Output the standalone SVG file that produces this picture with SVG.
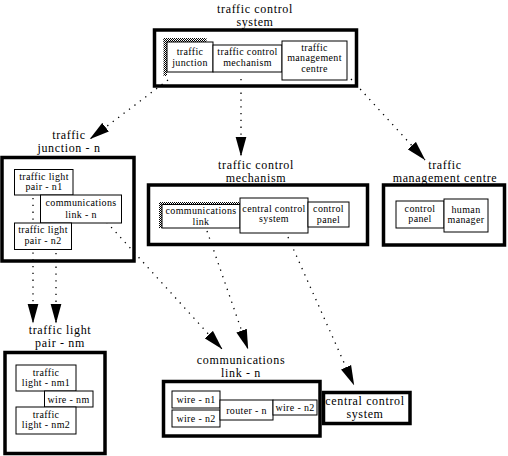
<svg xmlns="http://www.w3.org/2000/svg" width="508" height="456" viewBox="0 0 508 456">
<defs>
<style>
.outer{fill:none;stroke:#000;stroke-width:3.5}
.inner{fill:#fff;stroke:#000;stroke-width:1}
.hatch{fill:url(#dither);stroke:none}
.lbl{font-family:"Liberation Serif","Times New Roman",serif;font-size:12px;text-anchor:middle;letter-spacing:0.65px;fill:#000}
.txt{font-family:"Liberation Serif","Times New Roman",serif;font-size:10px;text-anchor:middle;letter-spacing:0.35px;fill:#000}
.conn{fill:none;stroke:#000;stroke-width:1.3;stroke-dasharray:1.3 5.5;marker-end:url(#arr)}
</style>
<pattern id="dither" width="2" height="2" patternUnits="userSpaceOnUse">
<rect width="2" height="2" fill="#fff"/>
<rect width="1" height="1" fill="#000"/>
<rect x="1" y="1" width="1" height="1" fill="#000"/>
</pattern>
<marker id="arr" viewBox="0 0 20 12" refX="19.5" refY="6" markerWidth="20" markerHeight="12" markerUnits="userSpaceOnUse" orient="auto">
<path d="M0,0.5 L20,6 L0,11.5 Z" fill="#000" stroke="none"/>
</marker>
</defs>
<rect width="508" height="456" fill="#fff"/>

<g id="connectors">
<line class="conn" x1="168" y1="80" x2="90" y2="139"/>
<line class="conn" x1="241" y1="79" x2="241" y2="156"/>
<line class="conn" x1="351" y1="79" x2="425" y2="160"/>
<line class="conn" x1="33" y1="198" x2="33" y2="323"/>
<line class="conn" x1="56" y1="253" x2="56" y2="323"/>
<line class="conn" x1="102" y1="217" x2="222" y2="349"/>
<line class="conn" x1="207" y1="231" x2="248" y2="349"/>
<line class="conn" x1="288" y1="237" x2="354" y2="385"/>
</g>

<g id="traffic-control-system">
<text class="lbl" x="255" y="13">traffic control</text>
<text class="lbl" x="255" y="26">system</text>
<rect class="outer" x="154.5" y="30" width="202" height="56"/>
<rect class="hatch" x="163.5" y="38" width="43" height="4"/>
<rect class="hatch" x="163.5" y="38" width="3.5" height="38"/>
<rect class="inner" x="167" y="42" width="46" height="30"/>
<text class="txt" x="190" y="55">traffic</text>
<text class="txt" x="190" y="65.5">junction</text>
<rect class="inner" x="213" y="45" width="69" height="27"/>
<text class="txt" x="247.5" y="55">traffic control</text>
<text class="txt" x="247.5" y="65.5">mechanism</text>
<rect class="inner" x="282" y="41" width="65" height="39"/>
<text class="txt" x="314.5" y="50.5">traffic</text>
<text class="txt" x="314.5" y="61">management</text>
<text class="txt" x="314.5" y="71.5">centre</text>
</g>

<g id="traffic-junction-n">
<text class="lbl" x="69" y="139">traffic</text>
<text class="lbl" x="69" y="152">junction - n</text>
<rect class="outer" x="2" y="157.5" width="132" height="103.5"/>
<rect class="inner" x="14.5" y="169.5" width="58.5" height="25.5"/>
<text class="txt" x="44" y="179.5">traffic light</text>
<text class="txt" x="44" y="190">pair - n1</text>
<rect class="inner" x="40.5" y="195" width="81" height="28"/>
<text class="txt" x="81" y="205.5">communications</text>
<text class="txt" x="81" y="218">link - n</text>
<rect class="inner" x="14.5" y="223" width="57" height="26.5"/>
<text class="txt" x="43" y="233">traffic light</text>
<text class="txt" x="43" y="243.5">pair - n2</text>
</g>

<g id="traffic-control-mechanism">
<text class="lbl" x="256" y="168.5">traffic control</text>
<text class="lbl" x="256" y="181.5">mechanism</text>
<rect class="outer" x="148.5" y="185" width="219" height="59.5"/>
<rect class="hatch" x="159" y="202" width="81" height="2.5"/>
<rect class="hatch" x="159" y="202" width="3" height="26"/>
<rect class="inner" x="162" y="204.5" width="78" height="23.5"/>
<text class="txt" x="201" y="214">communications</text>
<text class="txt" x="201" y="224.5">link</text>
<rect class="inner" x="240" y="198" width="68" height="35"/>
<text class="txt" x="274" y="211.5">central control</text>
<text class="txt" x="274" y="222">system</text>
<rect class="inner" x="308" y="202" width="41" height="25"/>
<text class="txt" x="328.5" y="212">control</text>
<text class="txt" x="328.5" y="222.5">panel</text>
</g>

<g id="traffic-management-centre">
<text class="lbl" x="445" y="168.5">traffic</text>
<text class="lbl" x="445" y="181.5">management centre</text>
<rect class="outer" x="383.5" y="185" width="121" height="60"/>
<rect class="inner" x="396" y="201" width="48" height="27"/>
<text class="txt" x="420" y="211.5">control</text>
<text class="txt" x="420" y="222">panel</text>
<rect class="inner" x="444" y="199" width="44" height="33"/>
<text class="txt" x="466" y="212.5">human</text>
<text class="txt" x="466" y="223">manager</text>
</g>

<g id="traffic-light-pair-nm">
<text class="lbl" x="60" y="334">traffic light</text>
<text class="lbl" x="60" y="347">pair - nm</text>
<rect class="outer" x="5" y="352.5" width="100" height="101"/>
<rect class="inner" x="16" y="365" width="60" height="26"/>
<text class="txt" x="46" y="375.5">traffic</text>
<text class="txt" x="46" y="386">light - nm1</text>
<rect class="inner" x="44.5" y="391" width="48.5" height="16"/>
<text class="txt" x="68.5" y="402.5">wire - nm</text>
<rect class="inner" x="16" y="407" width="60" height="27"/>
<text class="txt" x="46" y="417.5">traffic</text>
<text class="txt" x="46" y="428">light - nm2</text>
</g>

<g id="communications-link-n">
<text class="lbl" x="241" y="364">communications</text>
<text class="lbl" x="241" y="377">link - n</text>
<rect class="outer" x="163.5" y="381.5" width="156.5" height="54.5"/>
<rect class="inner" x="172" y="391" width="48" height="17"/>
<text class="txt" x="196" y="403">wire - n1</text>
<rect class="inner" x="172" y="410" width="48" height="17"/>
<text class="txt" x="196" y="422">wire - n2</text>
<rect class="inner" x="220" y="400" width="53" height="20"/>
<text class="txt" x="246.5" y="413.5">router - n</text>
<rect class="inner" x="273" y="400" width="44" height="15"/>
<text class="txt" x="295" y="411">wire - n2</text>
</g>

<g id="central-control-system">
<rect class="outer" x="323.5" y="392.5" width="86.5" height="31" fill="#fff"/>
<text class="lbl" x="365" y="405">central control</text>
<text class="lbl" x="365" y="418">system</text>
</g>
</svg>
